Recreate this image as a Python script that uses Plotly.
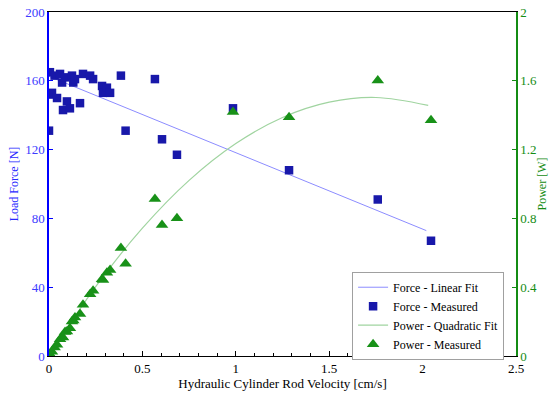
import plotly.graph_objects as go

velocity = [0.0, 0.005, 0.005, 0.016, 0.03, 0.043, 0.059, 0.07, 0.075, 0.086, 0.096,
            0.112, 0.123, 0.13, 0.139, 0.166, 0.182, 0.22, 0.236, 0.284, 0.289, 0.31,
            0.327, 0.385, 0.41, 0.567, 0.605, 0.685, 0.985, 1.285, 1.76, 2.045]
force = [131, 165, 152, 153, 163, 150, 164, 159, 143, 162, 148,
         144, 163, 159, 161, 147, 164, 163, 161, 157, 153, 156,
         153, 163, 131, 161, 126, 117, 144, 108, 91, 67]
power = [0.0, 0.008, 0.008, 0.024, 0.049, 0.065, 0.097, 0.111, 0.107, 0.139, 0.142,
         0.161, 0.200, 0.207, 0.224, 0.244, 0.298, 0.359, 0.380, 0.446, 0.442, 0.484,
         0.500, 0.628, 0.537, 0.913, 0.762, 0.801, 1.418, 1.388, 1.602, 1.370]

# Fit curves
force_fit_v = [0.0, 2.02]
force_fit_f = [162.6, 72.9]
power_fit_v = [0.0, 0.25, 0.5, 0.75, 1.0, 1.25, 1.5, 1.75, 2.03]
power_fit_p = [0.0, 0.403, 0.743, 1.021, 1.235, 1.387, 1.476, 1.503, 1.457]

x_ticks = [0, 0.5, 1, 1.5, 2, 2.5]
x_tick_text = ["0", "0.5", "1", "1.5", "2", "2.5"]
force_ticks = [0, 40, 80, 120, 160, 200]
power_ticks = [0, 0.4, 0.8, 1.2, 1.6, 2]
power_tick_text = ["0", "0.4", "0.8", "1.2", "1.6", "2"]

BLUE = "rgb(0,0,255)"
GREEN = "rgb(20,140,20)"
FONT = "Times New Roman"

fig = go.Figure()
fig.add_trace(go.Scatter(x=force_fit_v, y=force_fit_f, mode="lines",
                         line=dict(color="rgb(140,140,255)", width=1),
                         name="Force - Linear Fit"))
fig.add_trace(go.Scatter(x=velocity, y=force, mode="markers",
                         marker=dict(symbol="square", size=8.5, color="rgb(24,24,170)"),
                         name="Force - Measured"))
fig.add_trace(go.Scatter(x=power_fit_v, y=power_fit_p, mode="lines", yaxis="y2",
                         line=dict(color="rgb(160,212,160)", width=1.2, shape="spline"),
                         name="Power - Quadratic Fit"))
fig.add_trace(go.Scatter(x=velocity, y=power, mode="markers", yaxis="y2",
                         marker=dict(symbol="triangle-up", size=11, color="rgb(24,145,24)"),
                         name="Power - Measured"))

fig.update_layout(
    width=553, height=394,
    margin=dict(l=49, r=37, t=12, b=38, autoexpand=False),
    paper_bgcolor="white", plot_bgcolor="white",
    font=dict(family=FONT, size=13, color="black"),
    showlegend=True,
    legend=dict(x=0.649, y=0.245, xanchor="left", yanchor="top",
                bgcolor="white", bordercolor="rgb(160,160,160)", borderwidth=1,
                font=dict(family=FONT, size=12, color="black"),
                tracegroupgap=0, itemwidth=30),
    xaxis=dict(range=[0, 2.5], tickvals=x_ticks, ticktext=x_tick_text, automargin=False,
               showgrid=False, zeroline=False, showline=True, linecolor="black",
               linewidth=1, mirror=True, ticks="inside", ticklen=5, tickcolor="black",
               minor=dict(dtick=0.1, ticks="inside", ticklen=3, tickcolor="black"),
               tickfont=dict(family=FONT, size=13, color="black"),
               title=dict(text="Hydraulic Cylinder Rod Velocity [cm/s]",
                          font=dict(family=FONT, size=13, color="black"), standoff=0)),
    yaxis=dict(range=[0, 200], tickvals=force_ticks, showgrid=False, zeroline=False,
               automargin=False,
               showline=True, linecolor=BLUE, linewidth=1.5, ticks="inside", ticklen=4,
               tickcolor=BLUE, tickfont=dict(family=FONT, size=13, color="rgb(60,60,255)"),
               title=dict(text="Load Force [N]", font=dict(family=FONT, size=12, color="rgb(40,40,255)"),
                          standoff=4)),
    yaxis2=dict(range=[0, 2], tickvals=power_ticks, ticktext=power_tick_text,
                overlaying="y", side="right", showgrid=False, zeroline=False,
                automargin=False,
                showline=True, linecolor=GREEN, linewidth=1.5, ticks="inside", ticklen=4,
                tickcolor=GREEN, tickfont=dict(family=FONT, size=13, color=GREEN),
                title=dict(text="Power [W]", font=dict(family=FONT, size=12, color=GREEN),
                           standoff=2)),
)

# remove the page's default 8px body margin so the figure fills the window exactly
fig.write_html("out.html", config={"displayModeBar": False},
               post_script="document.body.style.margin='0px';")
